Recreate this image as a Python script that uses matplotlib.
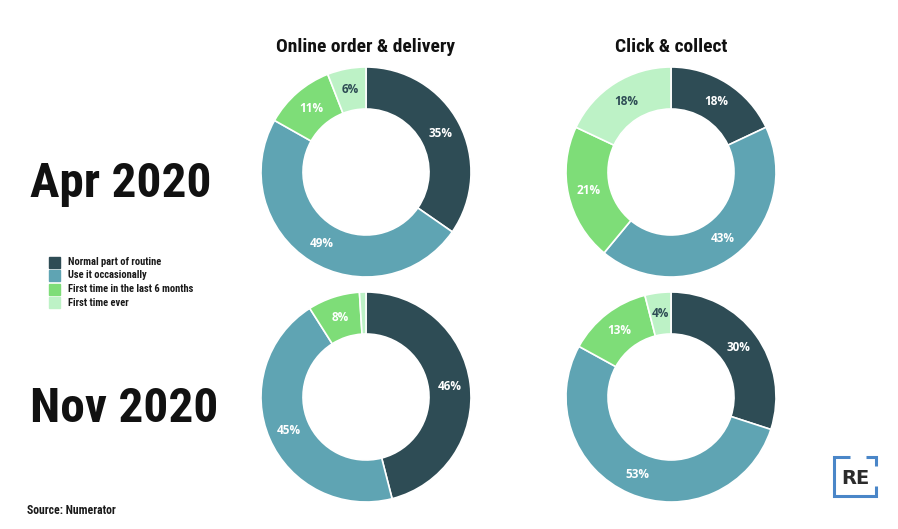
import numpy as np
import matplotlib
matplotlib.use("Agg")
import matplotlib.pyplot as plt

W, H = 898, 529

categories = ["Normal part of routine", "Use it occasionally",
              "First time in the last 6 months", "First time ever"]
colors = ["#2e4c55", "#5fa4b3", "#7edd78", "#bdf2c6"]
label_colors = ["white", "white", "white", "#2e4c55"]

channels = ["Online order & delivery", "Click & collect"]
periods = ["Apr 2020", "Nov 2020"]

apr_online = [35, 49, 11, 6]
apr_click = [18, 43, 21, 18]
nov_online = [46, 45, 8, 1]
nov_click = [30, 53, 13, 4]

# donut centres and radius in pixels
centres_x = [366, 671]
centres_y = [172, 397]
radius = 105

fig = plt.figure(figsize=(W / 100, H / 100), dpi=100)
fig.patch.set_facecolor("white")

bold = dict(family=["Roboto Condensed", "Roboto", "DejaVu Sans"], weight="bold")


def donut(cx, cy, values):
    ax = fig.add_axes([(cx - radius) / W, 1 - (cy + radius) / H,
                       2 * radius / W, 2 * radius / H])
    wedges, _ = ax.pie(values, colors=colors, startangle=90, counterclock=False,
                       wedgeprops=dict(width=0.4, edgecolor="white", linewidth=1.2))
    for w, v, lc in zip(wedges, values, label_colors):
        if v < 3:
            continue
        mid = np.deg2rad((w.theta1 + w.theta2) / 2)
        ax.text(0.8 * np.cos(mid), 0.8 * np.sin(mid), f"{v}%", color=lc,
                ha="center", va="center", fontsize=8.5, fontweight="bold",
                family="Open Sans")
    ax.set_xlim(-1, 1)
    ax.set_ylim(-1, 1)
    ax.set_aspect("equal")
    ax.axis("off")


donut(centres_x[0], centres_y[0], apr_online)
donut(centres_x[1], centres_y[0], apr_click)
donut(centres_x[0], centres_y[1], nov_online)
donut(centres_x[1], centres_y[1], nov_click)

# overlay for titles, legend, source and logo (pixel coordinates)
ov = fig.add_axes([0, 0, 1, 1], zorder=-1)
ov.set_xlim(0, W)
ov.set_ylim(H, 0)
ov.axis("off")

for cx, title in zip(centres_x, channels):
    ov.text(cx, 52, title, ha="center", va="baseline", fontsize=14, color="#111111", **bold)

for base, p in zip([197, 422], periods):
    ov.text(30, base, p, ha="left", va="baseline", fontsize=35.5, color="#111111", **bold)

for i, (cat, c) in enumerate(zip(categories, colors)):
    y = 262 + i * 13.5
    ov.add_patch(plt.Rectangle((49, y - 5.5), 11, 11, color=c))
    ov.text(68, y, cat, ha="left", va="center", fontsize=7.6, color="#1a1a1a", **bold)

ov.text(27, 511, "Source: Numerator", ha="left", va="center", fontsize=8.5,
        color="#1a1a1a", **bold)

# RE logo: open blue bracket with letters inside
blue = "#4a86c8"
ov.plot([850, 834, 834, 876, 876], [457, 457, 496, 496, 486], color=blue, lw=2.2,
        solid_joinstyle="miter", solid_capstyle="butt")
ov.plot([866, 876, 876], [457, 457, 466], color=blue, lw=2.2,
        solid_joinstyle="miter", solid_capstyle="butt")
ov.text(855, 478, "RE", ha="center", va="center", fontsize=14, fontweight="bold",
        family="DejaVu Sans", color="#2b2b2b")

fig.savefig("out.png", dpi=100, facecolor="white")
